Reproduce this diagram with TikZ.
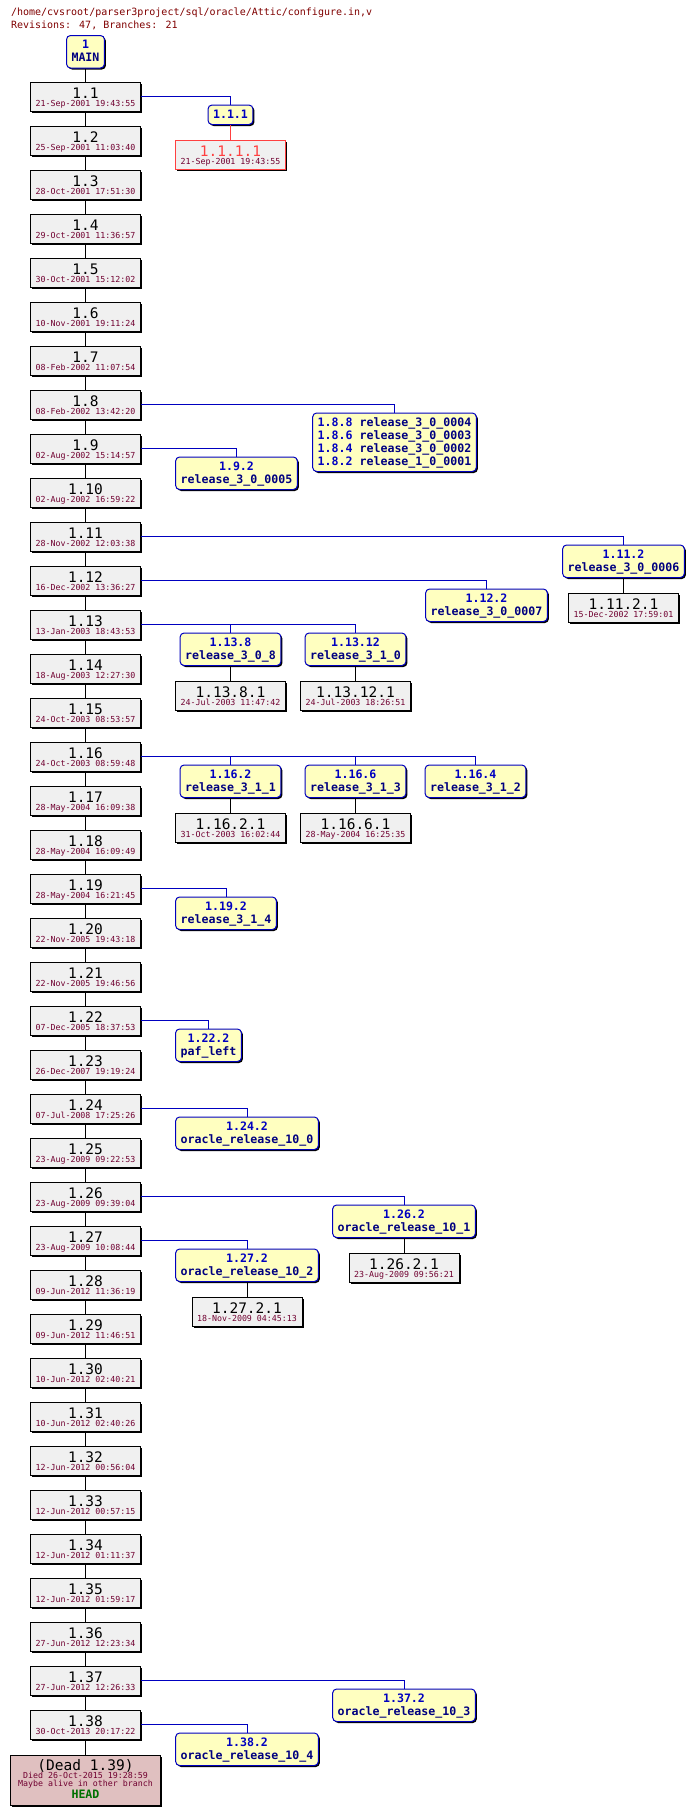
\documentclass[tikz,border=0pt]{standalone}
\usepackage{fontspec}
\usepackage{xcolor}
\usepackage{tikz}
\usetikzlibrary{positioning, calc, shadows}
\newfontfamily\cvsmono{DejaVu Sans Mono}
\definecolor{revgray}{HTML}{F0F0F0}
\definecolor{titlered}{HTML}{800000}
\definecolor{datered}{HTML}{700030}
\definecolor{brblue}{HTML}{0000C0}
\definecolor{tagnavy}{HTML}{000080}
\definecolor{tagyellow}{HTML}{FFFFC0}
\definecolor{deadpink}{HTML}{E0C0C0}
\definecolor{headgreen}{HTML}{007000}
\definecolor{vendorred}{HTML}{FF4040}

\newcommand\revfont{\cvsmono\fontsize{14.5}{14.5}\selectfont}
\newcommand\datefont{\cvsmono\fontsize{8.3}{8.3}\selectfont}
\newcommand\tagfont{\cvsmono\bfseries\fontsize{11.6}{13}\selectfont}
\newcommand\titlefont{\cvsmono\fontsize{10}{12}\selectfont}

% rows of a box, centred, with fixed line pitch from the struts
\newcommand\boxrows[1]{\vbox{\offinterlineskip\halign{\hfil\begingroup##\endgroup\hfil\cr#1\crcr}}}
\newcommand\tagstrut{\rule[-3pt]{0pt}{13pt}}
\newcommand\revtext[3][black]{\boxrows{\rule{0pt}{14pt}\smash{\revfont\color{#1}#2}\cr
  \rule[-2pt]{0pt}{10.4pt}\smash{\datefont\color{datered}#3}}}
\newcommand\tagtext[2]{\boxrows{\tagstrut\color{brblue}#1\cr\tagstrut\color{tagnavy}#2}}

\tikzset{
  boxshadow/.style={drop shadow={shadow xshift=1.5pt, shadow yshift=-1.5pt, fill=black, opacity=1}},
  revbox/.style={draw=black, fill=revgray, minimum width=110pt, minimum height=29pt, inner sep=0pt, boxshadow},
  tagbox/.style={draw=brblue, fill=tagyellow, rounded corners=4pt, inner xsep=5pt, inner ysep=3.25pt, font=\tagfont, boxshadow},
  brline/.style={brblue},
}

\begin{document}
\begin{tikzpicture}[x=1pt, y=-1pt, line width=1pt, node distance=15pt]
  \fill[white] (0,0) rectangle (694,1815);
  \useasboundingbox (0,0) rectangle (694,1815);

  \node[anchor=base west, inner sep=0pt, font=\titlefont, text=titlered] (title) at (10.5,15.7)
    {/home/cvsroot/parser3project/sql/oracle/Attic/configure.in,v};
  \node[anchor=base west, inner sep=0pt, font=\titlefont, text=titlered] (stats) at (10.5,28.3)
    {Revisions: 47, Branches: 21};

  % trunk
  \node[tagbox, anchor=north] (main) at (85.5,35) {\tagtext{1}{MAIN}};
  \foreach \d [count=\n] in {21-Sep-2001 19:43:55, 25-Sep-2001 11:03:40, 28-Oct-2001 17:51:30,
      29-Oct-2001 11:36:57, 30-Oct-2001 15:12:02, 10-Nov-2001 19:11:24, 08-Feb-2002 11:07:54,
      08-Feb-2002 13:42:20, 02-Aug-2002 15:14:57, 02-Aug-2002 16:59:22, 28-Nov-2002 12:03:38,
      16-Dec-2002 13:36:27, 13-Jan-2003 18:43:53, 18-Aug-2003 12:27:30, 24-Oct-2003 08:53:57,
      24-Oct-2003 08:59:48, 28-May-2004 16:09:38, 28-May-2004 16:09:49, 28-May-2004 16:21:45,
      22-Nov-2005 19:43:18, 22-Nov-2005 19:46:56, 07-Dec-2005 18:37:53, 26-Dec-2007 19:19:24,
      07-Jul-2008 17:25:26, 23-Aug-2009 09:22:53, 23-Aug-2009 09:39:04, 23-Aug-2009 10:08:44,
      09-Jun-2012 11:36:19, 09-Jun-2012 11:46:51, 10-Jun-2012 02:40:21, 10-Jun-2012 02:40:26,
      12-Jun-2012 00:56:04, 12-Jun-2012 00:57:15, 12-Jun-2012 01:11:37, 12-Jun-2012 01:59:17,
      27-Jun-2012 12:23:34, 27-Jun-2012 12:26:33, 30-Oct-2013 20:17:22}
    \node[revbox] (r\n) at (85.5,{52.5+44*\n}) {\revtext{1.\n}{\d}};
  \node[draw=black, fill=deadpink, minimum width=150pt, minimum height=50.7pt, inner sep=0pt,
    boxshadow, below=15pt of r38] (dead) {\boxrows{%
      \rule{0pt}{11.7pt}\smash{\revfont (Dead 1.39)}\cr
      \rule{0pt}{8.4pt}\smash{\datefont\color{datered}Died 26-Oct-2015 19:28:59}\cr
      \rule{0pt}{8.3pt}\smash{\datefont\color{datered}Maybe alive in other branch}\cr
      \rule[-4pt]{0pt}{15.7pt}\smash{\tagfont\color{headgreen}HEAD}}};

  \draw (main) -- (r1);
  \foreach \n [evaluate=\n as \m using int(\n+1)] in {1,...,37}
    \draw (r\n) -- (r\m);
  \draw (r38) -- (dead);

  % branches
  \node[tagbox, anchor=north] (t1) at ($(r1.center)+(145,8)$) {\boxrows{\tagstrut\color{brblue}1.1.1}};
  \node[revbox, draw=vendorred, below=14.5pt of t1] (v1) {\revtext[vendorred]{1.1.1.1}{21-Sep-2001 19:43:55}};
  \node[tagbox, anchor=north] (t8) at ($(r8.center)+(309,8)$) {\boxrows{%
      \tagstrut\color{brblue}1.8.8 \color{tagnavy}release\_3\_0\_0004\cr
      \tagstrut\color{brblue}1.8.6 \color{tagnavy}release\_3\_0\_0003\cr
      \tagstrut\color{brblue}1.8.4 \color{tagnavy}release\_3\_0\_0002\cr
      \tagstrut\color{brblue}1.8.2 \color{tagnavy}release\_1\_0\_0001}};
  \node[tagbox, anchor=north] (t9) at ($(r9.center)+(151,8)$) {\tagtext{1.9.2}{release\_3\_0\_0005}};
  \node[tagbox, anchor=north] (t11) at ($(r11.center)+(538,8)$) {\tagtext{1.11.2}{release\_3\_0\_0006}};
  \node[revbox, below=14.5pt of t11] (v11) {\revtext{1.11.2.1}{15-Dec-2002 17:59:01}};
  \node[tagbox, anchor=north] (t12) at ($(r12.center)+(401,8)$) {\tagtext{1.12.2}{release\_3\_0\_0007}};
  \node[tagbox, anchor=north] (t13a) at ($(r13.center)+(145,8)$) {\tagtext{1.13.8}{release\_3\_0\_8}};
  \node[revbox, below=14.5pt of t13a] (v13a) {\revtext{1.13.8.1}{24-Jul-2003 11:47:42}};
  \node[tagbox, anchor=north] (t13b) at ($(r13.center)+(270,8)$) {\tagtext{1.13.12}{release\_3\_1\_0}};
  \node[revbox, below=14.5pt of t13b] (v13b) {\revtext{1.13.12.1}{24-Jul-2003 18:26:51}};
  \node[tagbox, anchor=north] (t16a) at ($(r16.center)+(145,8)$) {\tagtext{1.16.2}{release\_3\_1\_1}};
  \node[revbox, below=14.5pt of t16a] (v16a) {\revtext{1.16.2.1}{31-Oct-2003 16:02:44}};
  \node[tagbox, anchor=north] (t16b) at ($(r16.center)+(270,8)$) {\tagtext{1.16.6}{release\_3\_1\_3}};
  \node[revbox, below=14.5pt of t16b] (v16b) {\revtext{1.16.6.1}{28-May-2004 16:25:35}};
  \node[tagbox, anchor=north] (t16c) at ($(r16.center)+(390,8)$) {\tagtext{1.16.4}{release\_3\_1\_2}};
  \node[tagbox, anchor=north] (t19) at ($(r19.center)+(140.5,8)$) {\tagtext{1.19.2}{release\_3\_1\_4}};
  \node[tagbox, anchor=north] (t22) at ($(r22.center)+(123,8)$) {\tagtext{1.22.2}{paf\_left}};
  \node[tagbox, anchor=north] (t24) at ($(r24.center)+(161.5,8)$) {\tagtext{1.24.2}{oracle\_release\_10\_0}};
  \node[tagbox, anchor=north] (t26) at ($(r26.center)+(318.5,8)$) {\tagtext{1.26.2}{oracle\_release\_10\_1}};
  \node[revbox, below=14.5pt of t26] (v26) {\revtext{1.26.2.1}{23-Aug-2009 09:56:21}};
  \node[tagbox, anchor=north] (t27) at ($(r27.center)+(161.5,8)$) {\tagtext{1.27.2}{oracle\_release\_10\_2}};
  \node[revbox, below=14.5pt of t27] (v27) {\revtext{1.27.2.1}{18-Nov-2009 04:45:13}};
  \node[tagbox, anchor=north] (t37) at ($(r37.center)+(318.5,8)$) {\tagtext{1.37.2}{oracle\_release\_10\_3}};
  \node[tagbox, anchor=north] (t38) at ($(r38.center)+(161.5,8)$) {\tagtext{1.38.2}{oracle\_release\_10\_4}};

  \foreach \r/\t in {1/1, 8/8, 9/9, 11/11, 12/12, 13/13a, 13/13b, 16/16a, 16/16b, 16/16c,
      19/19, 22/22, 24/24, 26/26, 27/27, 37/37, 38/38}
    \draw[brline] (r\r.east) -| (t\t.north);
  \draw[vendorred] (t1) -- (v1);
  \foreach \t in {11, 13a, 13b, 16a, 16b, 26, 27}
    \draw (t\t) -- (v\t);
\end{tikzpicture}
\end{document}
